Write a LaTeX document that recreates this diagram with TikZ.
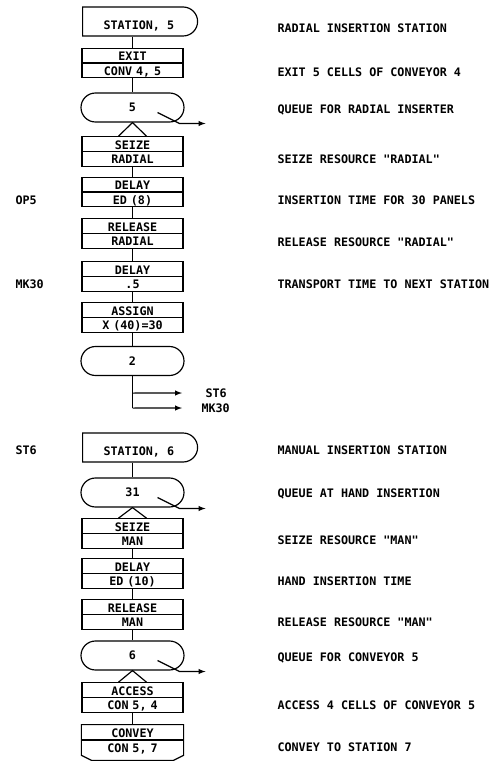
\documentclass[tikz,border=0pt]{standalone}
\usepackage{fontspec}
\setmonofont{DejaVu Sans Mono}
\usepackage{tikz}
\usetikzlibrary{shapes,arrows,positioning,calc}
\newcommand{\rowtxt}[1]{\rule[-1.6pt]{0pt}{11.6pt}#1}

\begin{document}
\begin{tikzpicture}[
    x=0.03cm, y=-0.03cm,
    >={latex},
    line width=1pt,
    every node/.style={font=\ttfamily\bfseries\fontsize{10}{11}\selectfont},
    stationbox/.style={rounded rectangle, rounded rectangle left arc=none, draw, minimum width=3.45cm, minimum height=0.87cm, inner sep=0pt, text height=14pt, text depth=0pt, anchor=west},
    queuebox/.style={rounded rectangle, draw, minimum width=3.09cm, minimum height=0.87cm, inner sep=0pt, text height=7.3pt, text depth=0pt},
    twobox/.style={rectangle split, rectangle split parts=2, draw, text width=3.03cm, align=center, inner xsep=0pt, inner ysep=0pt},
    labelstyle/.style={anchor=west, inner sep=0pt, text height=7.3pt, text depth=0pt}
]
\useasboundingbox (0,0) rectangle (499,763);

% Radial insertion station
\node[stationbox] (stat5) at (82,21.5) {STATION, 5\hspace{12pt}};
\node[twobox] (exit) at (132.5,63) {\rowtxt{EXIT}\nodepart{two}\rowtxt{CONV 4, 5}};
\node[queuebox] (q5) at (132.5,107.5) {5};
\node[twobox] (seize1) at (132.5,151.5) {\rowtxt{SEIZE}\nodepart{two}\rowtxt{RADIAL}};
\node[twobox] (delay1) at (132.5,192) {\rowtxt{DELAY}\nodepart{two}\rowtxt{ED (8)}};
\node[twobox] (release1) at (132.5,233.5) {\rowtxt{RELEASE}\nodepart{two}\rowtxt{RADIAL}};
\node[twobox] (delay2) at (132.5,276.5) {\rowtxt{DELAY}\nodepart{two}\rowtxt{.5}};
\node[twobox] (assign) at (132.5,317.5) {\rowtxt{ASSIGN}\nodepart{two}\rowtxt{X (40)=30}};
\node[queuebox] (q2) at (132.5,361) {2};

% Manual insertion station
\node[stationbox] (stat6) at (82,447.5) {STATION, 6\hspace{12pt}};
\node[queuebox] (q31) at (132.5,492.5) {31};
\node[twobox] (seize2) at (132.5,533.5) {\rowtxt{SEIZE}\nodepart{two}\rowtxt{MAN}};
\node[twobox] (delay3) at (132.5,573.5) {\rowtxt{DELAY}\nodepart{two}\rowtxt{ED (10)}};
\node[twobox] (release2) at (132.5,614.5) {\rowtxt{RELEASE}\nodepart{two}\rowtxt{MAN}};
\node[queuebox] (q6) at (132.5,655.5) {6};
\node[twobox] (access) at (132.5,697.5) {\rowtxt{ACCESS}\nodepart{two}\rowtxt{CON 5, 4}};
\node[twobox, draw=none] (convey) at (132.5,740) {\rowtxt{CONVEY}\nodepart{two}\rowtxt{CON 5, 7}};
\draw (convey.north west) -- (convey.north east) -- (convey.south east)
    -- ($(convey.south east)+(-10,5)$) -- ($(convey.south west)+(10,5)$)
    -- (convey.south west) -- cycle;
\draw (convey.text split west) -- (convey.text split east);

% Block connectors
\foreach \a/\b in {stat5/exit, exit/q5, seize1/delay1, delay1/release1, release1/delay2,
    delay2/assign, assign/q2, stat6/q31, seize2/delay3, delay3/release2, release2/q6, access/convey}
    \draw (\b.north |- \a.south) -- (\b.north);
\foreach \a/\b in {q5/seize1, q31/seize2, q6/access}
    \draw ($(\b.north)+(-14,0)$) -- (\a.south) -- ($(\b.north)+(14,0)$);

% Balking lines out of the queues
\foreach \q in {q5,q31,q6}
    \draw[->] ($(\q.center)+(25,5)$) -- ($(\q.center)+(47,16)$) -- ++(26,0);

% Branches after queue 2
\node[labelstyle] (gost6) at (205,393) {ST6};
\node[labelstyle] (gomk30) at (201,408) {MK30};
\coordinate (fork1) at ($(q2.south)+(0,17)$);
\coordinate (fork2) at ($(q2.south)+(0,32)$);
\coordinate (end1) at (182,393);
\coordinate (end2) at (182,408);
\draw (q2.south) -- (fork2);
\draw[->] (fork1) -- (end1);
\draw[->] (fork2) -- (end2);

% Labels on the left
\node[labelstyle] (lop5) at (15,200) {OP5};
\node[labelstyle] (lmk30) at (15,284) {MK30};
\node[labelstyle] (lst6) at (15,450) {ST6};

% Comments on the right
\node[labelstyle] (c1) at (277,28) {RADIAL INSERTION STATION};
\node[labelstyle] (c2) at (277,72) {EXIT 5 CELLS OF CONVEYOR 4};
\node[labelstyle] (c3) at (277,109) {QUEUE FOR RADIAL INSERTER};
\node[labelstyle] (c4) at (277,159) {SEIZE RESOURCE "RADIAL"};
\node[labelstyle] (c5) at (277,200) {INSERTION TIME FOR 30 PANELS};
\node[labelstyle] (c6) at (277,242) {RELEASE RESOURCE "RADIAL"};
\node[labelstyle] (c7) at (277,284) {TRANSPORT TIME TO NEXT STATION};
\node[labelstyle] (c8) at (277,450) {MANUAL INSERTION STATION};
\node[labelstyle] (c9) at (277,493) {QUEUE AT HAND INSERTION};
\node[labelstyle] (c10) at (277,540) {SEIZE RESOURCE "MAN"};
\node[labelstyle] (c11) at (277,581) {HAND INSERTION TIME};
\node[labelstyle] (c12) at (277,622) {RELEASE RESOURCE "MAN"};
\node[labelstyle] (c13) at (277,657) {QUEUE FOR CONVEYOR 5};
\node[labelstyle] (c14) at (277,705) {ACCESS 4 CELLS OF CONVEYOR 5};
\node[labelstyle] (c15) at (277,747) {CONVEY TO STATION 7};

\end{tikzpicture}
\end{document}
